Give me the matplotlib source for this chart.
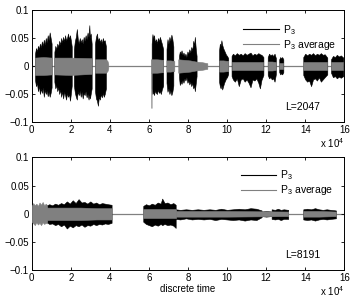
import matplotlib
matplotlib.use("Agg")
import matplotlib.pyplot as plt
from matplotlib.lines import Line2D

plt.rcParams['font.family'] = ['Liberation Sans', 'DejaVu Sans']
plt.rcParams['mathtext.fontset'] = 'custom'
plt.rcParams['mathtext.rm'] = 'Liberation Sans'
plt.rcParams['mathtext.it'] = 'Liberation Sans'
plt.rcParams['mathtext.default'] = 'regular'

# ---------------- data (x in units of 1e4 samples) ----------------
xticks = [0, 2, 4, 6, 8, 10, 12, 14, 16]
yticks = [-0.1, -0.05, 0, 0.05, 0.1]
ytick_labels = ['\u22120.1', '\u22120.05', '0', '0.05', '0.1']
series_labels = ['P$_3$', 'P$_3$ average']
panel_notes = ['L=2047', 'L=8191']

# top panel (L=2047): P3 envelope segments
top_p3_x = [
    [0.17, 0.22, 0.27, 0.32, 0.37, 0.42, 0.47, 0.52, 0.57, 0.62, 0.67, 0.72, 0.77, 0.82, 0.87, 0.92, 0.97, 1.02],
    [1.16, 1.21, 1.26, 1.31, 1.36, 1.41, 1.46, 1.51, 1.56, 1.61, 1.66, 1.71, 1.76, 1.81, 1.86, 1.91, 1.96, 2.01, 2.05],
    [2.16, 2.21, 2.26, 2.31, 2.36, 2.41, 2.46, 2.51, 2.56, 2.61, 2.66, 2.71, 2.76, 2.81, 2.86, 2.91, 2.95, 2.98, 3.02, 3.07],
    [3.24, 3.29, 3.34, 3.39, 3.44, 3.49, 3.54, 3.59, 3.64, 3.69, 3.74, 3.8],
    [6.14, 6.18, 6.22, 6.26, 6.31, 6.36, 6.41, 6.46, 6.51, 6.56, 6.61, 6.66, 6.73],
    [6.9, 6.95, 7.0, 7.05, 7.1, 7.15, 7.2, 7.25],
    [7.54, 7.58, 7.62, 7.67, 7.72, 7.77, 7.82, 7.87, 7.92, 7.97, 8.02, 8.07, 8.12, 8.17, 8.22, 8.27, 8.31, 8.35, 8.4, 8.44],
    [9.59, 9.63, 9.67, 9.71, 9.75, 9.8, 9.85, 9.9, 9.95, 10.0, 10.06],
    [10.23, 10.3, 10.4, 10.5, 10.6, 10.7, 10.8, 10.9, 11.0, 11.1, 11.2, 11.3, 11.4, 11.5, 11.6, 11.68, 11.76, 11.86],
    [12.08, 12.15, 12.22, 12.29, 12.36, 12.43, 12.5],
    [12.67, 12.72, 12.77, 12.82, 12.88],
    [13.9, 14.0, 14.1, 14.2, 14.3, 14.4, 14.5, 14.6, 14.7, 14.8, 14.9, 15.0, 15.13],
    [15.32, 15.42, 15.52, 15.62, 15.72, 15.82, 15.95],
]
top_p3_hi = [
    [0.022, 0.032, 0.026, 0.036, 0.030, 0.040, 0.033, 0.044, 0.036, 0.047, 0.038, 0.050, 0.042, 0.055, 0.046, 0.060, 0.050, 0.040],
    [0.025, 0.036, 0.030, 0.040, 0.034, 0.045, 0.038, 0.050, 0.042, 0.052, 0.044, 0.055, 0.046, 0.050, 0.058, 0.048, 0.055, 0.045, 0.035],
    [0.030, 0.045, 0.052, 0.066, 0.048, 0.040, 0.050, 0.042, 0.048, 0.040, 0.052, 0.045, 0.055, 0.048, 0.060, 0.052, 0.073, 0.050, 0.058, 0.040],
    [0.040, 0.052, 0.058, 0.045, 0.050, 0.042, 0.048, 0.040, 0.050, 0.044, 0.046, 0.035],
    [0.040, 0.057, 0.050, 0.055, 0.042, 0.048, 0.040, 0.050, 0.044, 0.052, 0.046, 0.040, 0.030],
    [0.030, 0.048, 0.040, 0.052, 0.045, 0.056, 0.048, 0.035],
    [0.018, 0.026, 0.022, 0.028, 0.020, 0.024, 0.018, 0.022, 0.016, 0.026, 0.022, 0.030, 0.024, 0.034, 0.028, 0.045, 0.036, 0.052, 0.030, 0.018],
    [0.028, 0.040, 0.036, 0.046, 0.038, 0.032, 0.028, 0.024, 0.020, 0.018, 0.014],
    [0.018, 0.022, 0.019, 0.023, 0.020, 0.022, 0.019, 0.023, 0.020, 0.022, 0.024, 0.019, 0.022, 0.020, 0.023, 0.021, 0.020, 0.016],
    [0.016, 0.022, 0.019, 0.021, 0.018, 0.022, 0.014],
    [0.012, 0.016, 0.014, 0.016, 0.012],
    [0.016, 0.022, 0.019, 0.022, 0.020, 0.023, 0.019, 0.022, 0.020, 0.023, 0.020, 0.021, 0.015],
    [0.012, 0.018, 0.016, 0.020, 0.017, 0.019, 0.015],
]
top_p3_lo = [
    [-0.025, -0.036, -0.030, -0.045, -0.035, -0.050, -0.040, -0.048, -0.038, -0.055, -0.042, -0.050, -0.044, -0.054, -0.046, -0.055, -0.048, -0.038],
    [-0.028, -0.040, -0.034, -0.045, -0.038, -0.050, -0.042, -0.055, -0.045, -0.058, -0.046, -0.052, -0.060, -0.048, -0.055, -0.050, -0.062, -0.048, -0.035],
    [-0.035, -0.048, -0.055, -0.060, -0.045, -0.052, -0.044, -0.055, -0.046, -0.058, -0.048, -0.052, -0.045, -0.056, -0.050, -0.060, -0.052, -0.058, -0.050, -0.040],
    [-0.045, -0.058, -0.062, -0.071, -0.055, -0.060, -0.050, -0.056, -0.048, -0.055, -0.050, -0.040],
    [-0.040, -0.050, -0.046, -0.052, -0.044, -0.048, -0.050, -0.042, -0.048, -0.045, -0.050, -0.042, -0.035],
    [-0.030, -0.046, -0.040, -0.050, -0.044, -0.052, -0.046, -0.035],
    [-0.020, -0.034, -0.028, -0.032, -0.025, -0.030, -0.022, -0.026, -0.020, -0.030, -0.026, -0.033, -0.028, -0.036, -0.030, -0.040, -0.034, -0.045, -0.030, -0.018],
    [-0.028, -0.036, -0.040, -0.034, -0.042, -0.036, -0.030, -0.026, -0.022, -0.020, -0.014],
    [-0.018, -0.024, -0.028, -0.022, -0.036, -0.024, -0.022, -0.028, -0.024, -0.030, -0.038, -0.024, -0.026, -0.022, -0.030, -0.040, -0.025, -0.016],
    [-0.016, -0.022, -0.020, -0.024, -0.022, -0.028, -0.014],
    [-0.011, -0.015, -0.013, -0.015, -0.011],
    [-0.016, -0.024, -0.028, -0.026, -0.036, -0.024, -0.022, -0.026, -0.020, -0.028, -0.024, -0.020, -0.015],
    [-0.012, -0.020, -0.018, -0.022, -0.019, -0.021, -0.018],
]

# top panel: P3 average envelope segments
top_avg_x = [
    [0.17, 0.6, 1.02],
    [1.16, 2.0, 3.07],
    [3.24, 3.5, 3.8, 3.88, 3.92],
    [6.1, 6.12, 6.13, 6.14, 6.4, 6.73],
    [6.9, 7.1, 7.3],
    [7.5, 7.8, 8.1, 8.4, 8.7, 8.99],
    [9.6, 9.8, 10.06],
    [10.23, 11.0, 11.86],
    [12.08, 12.3, 12.5],
    [12.67, 12.77, 12.88],
    [13.9, 14.5, 15.13],
    [15.32, 15.6, 15.95],
]
top_avg_hi = [
    [0.015, 0.016, 0.015],
    [0.015, 0.015, 0.014],
    [0.012, 0.012, 0.012, 0.009, 0.004],
    [0.012, 0.012, 0.012, 0.012, 0.012, 0.011],
    [0.010, 0.010, 0.009],
    [0.012, 0.011, 0.010, 0.008, 0.007, 0.005],
    [0.010, 0.010, 0.009],
    [0.008, 0.008, 0.008],
    [0.008, 0.008, 0.007],
    [0.006, 0.006, 0.006],
    [0.008, 0.008, 0.008],
    [0.007, 0.007, 0.007],
]
top_avg_lo = [
    [-0.016, -0.016, -0.015],
    [-0.015, -0.016, -0.014],
    [-0.012, -0.012, -0.012, -0.009, -0.004],
    [-0.012, -0.012, -0.075, -0.012, -0.012, -0.011],
    [-0.010, -0.010, -0.009],
    [-0.012, -0.011, -0.010, -0.008, -0.007, -0.005],
    [-0.010, -0.010, -0.009],
    [-0.008, -0.008, -0.008],
    [-0.008, -0.008, -0.007],
    [-0.006, -0.006, -0.006],
    [-0.008, -0.008, -0.008],
    [-0.007, -0.007, -0.007],
]

# bottom panel (L=8191): P3 envelope segments
bot_p3_x = [
    [0.77, 0.9, 1.05, 1.2, 1.35, 1.5, 1.65, 1.8, 1.95, 2.1, 2.25, 2.4, 2.55, 2.7, 2.85, 3.0, 3.15, 3.3, 3.45, 3.6, 3.75, 3.9, 4.09],
    [5.71, 5.85, 6.0, 6.15, 6.3, 6.45, 6.6, 6.68, 6.8, 6.95, 7.1, 7.25, 7.37],
    [7.37, 7.6, 7.9, 8.2, 8.5, 8.8, 9.1, 9.4, 9.7, 10.0, 10.3, 10.6, 10.9, 11.2, 11.5, 11.77],
    [11.77, 12.0, 12.28],
    [12.28, 12.45, 12.6, 12.75, 12.9, 13.13],
    [13.9, 14.1, 14.3, 14.5, 14.7, 14.9, 15.1, 15.3, 15.57],
]
bot_p3_hi = [
    [0.015, 0.017, 0.015, 0.018, 0.016, 0.019, 0.017, 0.022, 0.018, 0.024, 0.019, 0.026, 0.020, 0.021, 0.018, 0.022, 0.018, 0.020, 0.017, 0.019, 0.018, 0.017, 0.016],
    [0.014, 0.017, 0.015, 0.018, 0.016, 0.020, 0.018, 0.027, 0.019, 0.020, 0.017, 0.019, 0.016],
    [0.008, 0.007, 0.008, 0.007, 0.008, 0.007, 0.008, 0.007, 0.009, 0.007, 0.008, 0.009, 0.008, 0.010, 0.009, 0.006],
    [0.004, 0.005, 0.004],
    [0.008, 0.007, 0.009, 0.007, 0.008, 0.007],
    [0.008, 0.009, 0.008, 0.010, 0.008, 0.007, 0.008, 0.007, 0.006],
]
bot_p3_lo = [
    [-0.015, -0.018, -0.017, -0.020, -0.018, -0.022, -0.019, -0.026, -0.021, -0.024, -0.020, -0.022, -0.019, -0.023, -0.020, -0.021, -0.018, -0.020, -0.018, -0.019, -0.017, -0.018, -0.016],
    [-0.014, -0.018, -0.020, -0.022, -0.019, -0.021, -0.018, -0.020, -0.018, -0.020, -0.019, -0.021, -0.025],
    [-0.009, -0.010, -0.008, -0.010, -0.009, -0.010, -0.009, -0.011, -0.009, -0.010, -0.011, -0.010, -0.012, -0.010, -0.011, -0.006],
    [-0.004, -0.005, -0.004],
    [-0.009, -0.010, -0.009, -0.011, -0.009, -0.009],
    [-0.010, -0.011, -0.010, -0.012, -0.010, -0.009, -0.010, -0.009, -0.008],
]

# bottom panel: P3 average envelope segments
bot_avg_x = [
    [0.0, 0.08, 0.16, 0.24, 0.32, 0.4, 0.48, 0.56, 0.64, 0.72, 0.77, 0.8, 1.5, 2.5, 3.3, 4.09],
    [5.71, 6.5, 7.37],
    [7.37, 10.0, 13.13],
    [13.9, 14.7, 15.57],
]
bot_avg_hi = [
    [0.014, 0.019, 0.015, 0.018, 0.014, 0.020, 0.016, 0.021, 0.015, 0.018, 0.016, 0.011, 0.011, 0.011, 0.010, 0.010],
    [0.008, 0.008, 0.008],
    [0.005, 0.005, 0.004],
    [0.005, 0.005, 0.004],
]
bot_avg_lo = [
    [-0.014, -0.017, -0.020, -0.015, -0.019, -0.016, -0.020, -0.015, -0.018, -0.016, -0.017, -0.011, -0.011, -0.011, -0.010, -0.010],
    [-0.008, -0.008, -0.008],
    [-0.005, -0.005, -0.004],
    [-0.005, -0.005, -0.004],
]

P3_COLOR = 'black'
AVG_COLOR = '#808080'

fig = plt.figure(figsize=(3.51, 2.98), dpi=100)
ax_top = fig.add_axes([0.0903, 0.5906, 0.8906, 0.3758])
ax_bot = fig.add_axes([0.0903, 0.093, 0.8906, 0.379])

panels = [
    (ax_top, top_p3_x, top_p3_hi, top_p3_lo, top_avg_x, top_avg_hi, top_avg_lo, panel_notes[0], (0.677, 0.885)),
    (ax_bot, bot_p3_x, bot_p3_hi, bot_p3_lo, bot_avg_x, bot_avg_hi, bot_avg_lo, panel_notes[1], (0.668, 0.90)),
]

for ax, px, phi, plo, ax_x, ahi, alo, note, leg_anchor in panels:
    ax.axhline(0, color=AVG_COLOR, lw=0.9, zorder=1)
    for xs, hi, lo in zip(px, phi, plo):
        ax.fill_between(xs, lo, hi, color=P3_COLOR, lw=0.4, zorder=2)
    for xs, hi, lo in zip(ax_x, ahi, alo):
        ax.fill_between(xs, lo, hi, color=AVG_COLOR, lw=0.4, zorder=3)
    ax.set_xlim(0, 16)
    ax.set_ylim(-0.1, 0.1)
    ax.set_xticks(xticks)
    ax.set_xticklabels([str(t) for t in xticks])
    ax.set_yticks(yticks)
    ax.set_yticklabels(ytick_labels)
    ax.tick_params(direction='in', top=True, right=True, length=2.5, width=0.6,
                   labelsize=7, pad=2)
    for s in ax.spines.values():
        s.set_linewidth(0.7)
    ax.text(1.0, -0.185, 'x 10$^{4}$', transform=ax.transAxes, ha='right', va='center', fontsize=7)
    ax.text(12.96, -0.073, note, ha='left', va='center', fontsize=7.5)
    handles = [Line2D([], [], color=P3_COLOR, lw=0.8), Line2D([], [], color=AVG_COLOR, lw=0.8)]
    ax.legend(handles, series_labels, loc='upper left', bbox_to_anchor=leg_anchor,
              frameon=False, fontsize=7.5, handlelength=3.4, handletextpad=0.4,
              borderpad=0, borderaxespad=0, labelspacing=0.1)

ax_bot.set_xlabel('discrete time', fontsize=7, labelpad=1)

fig.savefig('out.png', dpi=100)
